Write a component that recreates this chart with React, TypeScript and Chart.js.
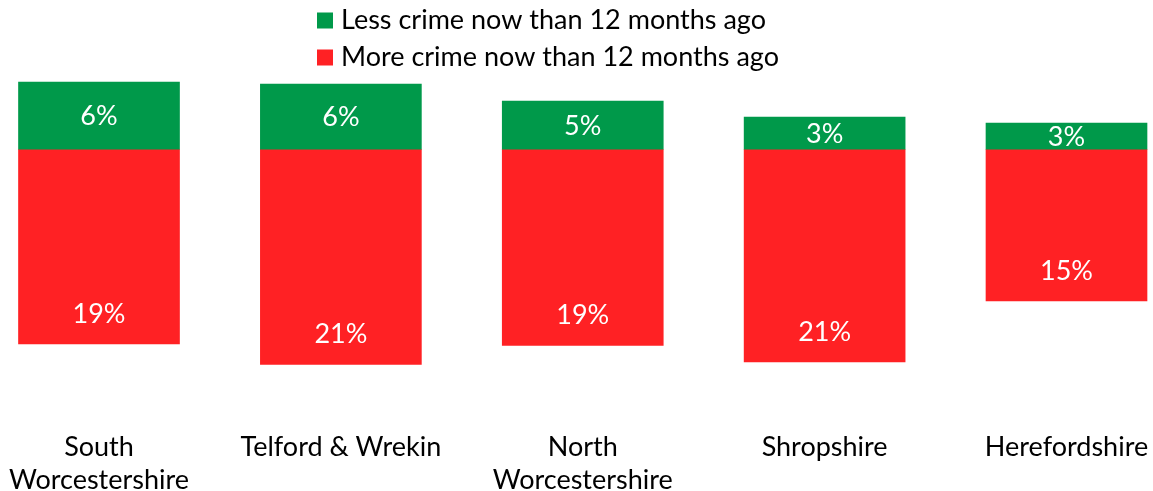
import React, { useEffect, useRef } from "react";
import { Chart, registerables } from "chart.js";

Chart.register(...registerables);

const categories: string[][] = [
  ["South", "Worcestershire"],
  ["Telford & Wrekin"],
  ["North", "Worcestershire"],
  ["Shropshire"],
  ["Herefordshire"],
];
const lessCrime: number[] = [6.55, 6.35, 4.7, 3.15, 2.55];
const moreCrime: number[] = [-19.0, -21.0, -19.15, -20.75, -14.8];
const lessLabels: string[] = ["6%", "6%", "5%", "3%", "3%"];
const moreLabels: string[] = ["19%", "21%", "19%", "21%", "15%"];
const seriesNames: string[] = [
  "Less crime now than 12 months ago",
  "More crime now than 12 months ago",
];
const GREEN = "#00994A";
const RED = "#FF2124";
const FONT = "Lato";
const FSIZE = 27;

export default function App() {
  const ref = useRef<HTMLCanvasElement | null>(null);
  useEffect(() => {
    if (!ref.current) return;
    const labelPlugin = {
      id: "segLabels",
      afterDatasetsDraw(chart: any) {
        const ctx = chart.ctx;
        ctx.save();
        ctx.fillStyle = "#ffffff";
        ctx.font = `${FSIZE}px ${FONT}`;
        ctx.textAlign = "center";
        ctx.textBaseline = "middle";
        const m0 = chart.getDatasetMeta(0);
        m0.data.forEach((bar: any, i: number) => {
          ctx.fillText(lessLabels[i], bar.x, (bar.y + bar.base) / 2 + 1);
        });
        const m1 = chart.getDatasetMeta(1);
        m1.data.forEach((bar: any, i: number) => {
          ctx.fillText(moreLabels[i], bar.x, bar.y - 30);
        });
        ctx.restore();
      },
      afterDraw(chart: any) {
        const ctx = chart.ctx;
        ctx.save();
        ctx.font = `${FSIZE}px ${FONT}`;
        ctx.textAlign = "left";
        ctx.textBaseline = "middle";
        const rows = [20.5, 57.5];
        const colors = [GREEN, RED];
        rows.forEach((y, i) => {
          ctx.fillStyle = colors[i];
          ctx.fillRect(317, y - 8, 16, 16);
          ctx.fillStyle = "#000000";
          ctx.fillText(seriesNames[i], 341, y);
        });
        ctx.restore();
      },
    };
    const chart = new Chart(ref.current, {
      type: "bar",
      data: {
        labels: categories,
        datasets: [
          { label: seriesNames[0], data: lessCrime, backgroundColor: GREEN, barThickness: 161, clip: false as any },
          { label: seriesNames[1], data: moreCrime, backgroundColor: RED, barThickness: 161, clip: false as any },
        ],
      },
      options: {
        animation: false,
        responsive: false,
        maintainAspectRatio: false,
        layout: { padding: { left: 99, right: 86.5, top: 72.4, bottom: 0 } },
        plugins: { legend: { display: false }, tooltip: { enabled: false } },
        scales: {
          x: {
            stacked: true,
            offset: false,
            grid: { display: false, drawTicks: false },
            border: { display: false },
            ticks: {
              color: "#000000",
              font: { family: FONT, size: FSIZE, lineHeight: 33 / FSIZE },
              padding: 0,
              maxRotation: 0,
              autoSkip: false,
            },
            afterFit(scale: any) {
              scale.height = 60;
            },
          },
          y: {
            stacked: true,
            display: false,
            min: -27.5,
            max: 7.5,
          },
        },
      },
      plugins: [labelPlugin],
    });
    return () => chart.destroy();
  }, []);
  return (
    <div style={{ position: "fixed", left: 0, top: 0, width: 1153, height: 491, background: "#fff" }}>
      <canvas ref={ref} width={1153} height={491} style={{ width: 1153, height: 491 }} />
    </div>
  );
}
